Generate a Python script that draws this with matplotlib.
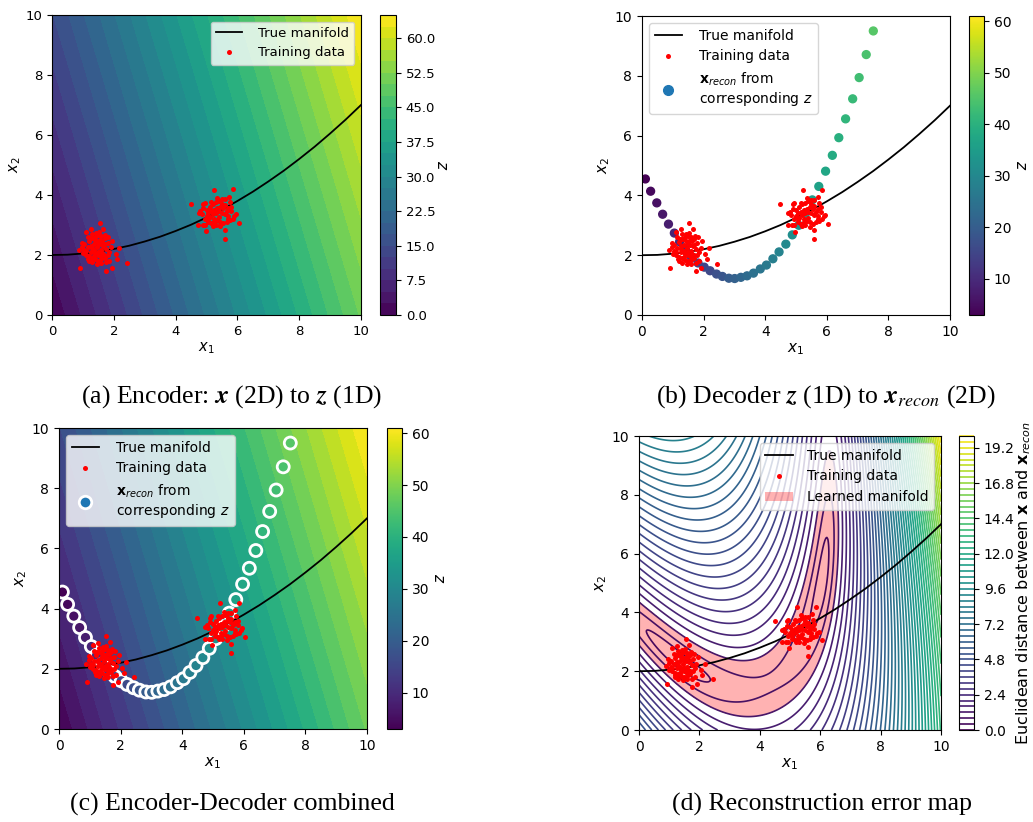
import numpy as np
import matplotlib
matplotlib.use("Agg")
import matplotlib.pyplot as plt
from matplotlib.colors import Normalize
from matplotlib.patches import Patch
from matplotlib.lines import Line2D

# ----------------------------------------------------------------------
# Data
# ----------------------------------------------------------------------
# true manifold, sampled every 0.5 in x1
manifold_x1 = [0, 0.5, 1, 1.5, 2, 2.5, 3, 3.5, 4, 4.5, 5, 5.5, 6, 6.5, 7, 7.5, 8, 8.5,
               9, 9.5, 10]
manifold_x2 = [2.0, 2.01, 2.05, 2.11, 2.2, 2.31, 2.45, 2.61, 2.8, 3.01, 3.25, 3.51, 3.8,
               4.11, 4.45, 4.81, 5.2, 5.61, 6.05, 6.51, 7.0]

# training data, cluster around (1.45, 2.2)
train1_x1 = [1.54, 1.27, 1.10, 1.65, 0.96, 0.88, 0.92, 1.74, 1.93, 2.44, 2.17, 2.06, 2.10, 1.94,
             1.20, 1.30, 1.40, 1.50, 1.60, 1.70, 1.55, 1.45, 1.35, 1.25, 1.15, 1.05, 1.00, 1.10,
             1.20, 1.30, 1.40, 1.50, 1.60, 1.70, 1.80, 1.85, 1.75, 1.65, 1.55, 1.45, 1.35, 1.25,
             1.40, 1.50, 1.60, 1.70, 1.80, 1.30, 1.15, 1.05, 1.20, 1.30, 1.45, 1.60, 1.75, 1.85,
             1.90, 1.62, 1.38, 1.48, 1.28, 1.58, 1.68, 1.22, 1.52, 1.42, 1.72, 1.82, 1.36, 1.10,
             0.98, 1.62, 1.48, 1.18]
train1_x2 = [3.08, 2.87, 2.78, 2.88, 2.41, 2.17, 1.56, 1.46, 1.56, 1.72, 2.24, 2.04, 1.87, 2.47,
             2.45, 2.55, 2.60, 2.65, 2.62, 2.55, 2.50, 2.45, 2.35, 2.30, 2.25, 2.15, 2.05, 2.00,
             1.95, 1.90, 1.85, 1.80, 1.85, 1.90, 2.00, 2.10, 2.20, 2.30, 2.35, 2.25, 2.15, 2.10,
             2.05, 2.10, 2.15, 2.35, 2.40, 2.70, 2.60, 2.35, 1.80, 1.75, 1.70, 1.72, 1.75, 1.80,
             2.25, 2.05, 2.50, 2.00, 2.22, 1.95, 2.00, 2.55, 2.75, 2.72, 2.65, 2.60, 1.95, 2.12,
             2.28, 2.48, 2.38, 1.88]

# training data, cluster around (5.3, 3.4)
train2_x1 = [5.23, 5.85, 4.49, 5.72, 4.94, 6.05, 5.59, 5.60, 4.97, 4.73, 4.88,
             5.00, 5.10, 5.20, 5.30, 5.40, 5.50, 5.60, 5.70, 5.80, 5.90, 5.85, 5.75, 5.65,
             5.55, 5.45, 5.35, 5.25, 5.15, 5.05, 4.95, 4.85, 4.80, 4.90, 5.00, 5.10, 5.20,
             5.30, 5.40, 5.50, 5.60, 5.70, 5.45, 5.35, 5.25, 5.15, 5.05, 5.55, 5.65, 5.75,
             5.50, 5.35, 5.15, 4.90, 4.75, 5.25, 5.40, 5.80, 5.95, 5.60, 5.05, 5.30, 5.45,
             5.20, 5.70, 4.95]
train2_x2 = [4.17, 4.19, 3.70, 3.94, 3.74, 3.06, 2.83, 2.53, 2.79, 3.00, 3.00,
             3.50, 3.60, 3.70, 3.75, 3.80, 3.70, 3.65, 3.55, 3.45, 3.30, 3.20, 3.15, 3.10,
             3.05, 3.10, 3.15, 3.10, 3.05, 3.10, 3.20, 3.35, 3.45, 3.55, 3.30, 3.25, 3.35,
             3.40, 3.45, 3.40, 3.35, 3.30, 3.60, 3.55, 3.50, 3.45, 3.40, 3.55, 3.45, 3.75,
             3.85, 3.90, 3.75, 3.70, 3.40, 3.20, 3.25, 3.60, 3.35, 3.85, 3.20, 3.00, 2.95,
             2.98, 3.20, 3.00]

# decoder output x_recon for each z (visible points only)
recon_z = [3.0, 4.2, 5.4, 6.6, 7.7, 8.9, 10.1, 11.3, 12.5, 13.7, 14.8, 16.0, 17.2,
           18.4, 19.6, 20.8, 21.9, 23.1, 24.3, 25.5, 26.7, 27.9, 29.0, 30.2, 31.4,
           32.6, 33.8, 35.0, 36.1, 37.3, 38.5, 39.7, 40.9, 42.1, 43.2, 44.4, 45.6]
recon_x1 = [0.11, 0.28, 0.48, 0.67, 0.86, 1.05, 1.22, 1.42, 1.61, 1.82, 2.02, 2.21, 2.42,
            2.61, 2.82, 3.01, 3.21, 3.41, 3.62, 3.84, 4.04, 4.25, 4.45, 4.67, 4.88,
            5.09, 5.31, 5.53, 5.74, 5.96, 6.18, 6.39, 6.61, 6.84, 7.05, 7.28, 7.51]
recon_x2 = [4.55, 4.14, 3.75, 3.37, 3.04, 2.74, 2.45, 2.16, 1.92, 1.74, 1.60, 1.48, 1.37,
            1.29, 1.23, 1.22, 1.26, 1.31, 1.40, 1.54, 1.67, 1.88, 2.11, 2.37, 2.68,
            3.00, 3.40, 3.85, 4.30, 4.81, 5.34, 5.93, 6.56, 7.23, 7.94, 8.71, 9.50]
Z_MIN, Z_MAX = 3.0, 61.0          # colour range of the z colourbars

ENC_A, ENC_B, ENC_C = 5.0, 1.45, 0.3
ERR_LEARNED = 1.2                 # error below which the manifold counts as learned

z_ticks = [0.0, 7.5, 15.0, 22.5, 30.0, 37.5, 45.0, 52.5, 60.0]
zc_ticks = [10, 20, 30, 40, 50, 60]
err_ticks = [0.0, 2.4, 4.8, 7.2, 9.6, 12.0, 14.4, 16.8, 19.2]

W, H = 1033, 822


def px_rect(left, right, top, bottom):
    return [left / W, 1 - bottom / H, (right - left) / W, (bottom - top) / H]


def encoder(x1, x2):
    return ENC_A * x1 + ENC_B * x2 + ENC_C


def decoder(z):
    # smooth fit through the read decoder points, used only for the error map
    p1 = np.polyfit(recon_z, recon_x1, 3)
    p2 = np.polyfit(recon_z, recon_x2, 4)
    return np.polyval(p1, z), np.polyval(p2, z)


def base(ax, fs=10):
    ax.plot(manifold_x1, manifold_x2, color="black", lw=1.3, label="True manifold")
    ax.plot(train1_x1 + train2_x1, train1_x2 + train2_x2, "o", color="red",
            ms=3.6, mec="none", label="Training data")
    ax.set_xlim(0, 10)
    ax.set_ylim(0, 10)
    ax.set_xticks([0, 2, 4, 6, 8, 10])
    ax.set_yticks([0, 2, 4, 6, 8, 10])
    ax.tick_params(labelsize=fs)
    ax.set_xlabel("$x_1$", fontsize=fs + 1, labelpad=2)
    ax.set_ylabel("$x_2$", fontsize=fs + 1, labelpad=2)


gx = np.linspace(0, 10, 300)
X1, X2 = np.meshgrid(gx, gx)
Zf = encoder(X1, X2)
z_levels = np.arange(0, 65.1, 2.5)
norm_z = Normalize(vmin=Z_MIN, vmax=Z_MAX)
recon_label = "$\\mathbf{x}_{recon}$ from\ncorresponding $z$"

fig = plt.figure(figsize=(W / 100, H / 100), dpi=100)

# (a) encoder
ax = fig.add_axes(px_rect(52, 361, 15, 315))
cf = ax.contourf(X1, X2, Zf, levels=z_levels, cmap="viridis")
base(ax, 9.5)
ax.legend(loc="upper right", fontsize=9.5, handletextpad=1.2, borderaxespad=0.5)
cax = fig.add_axes(px_rect(380, 396, 15, 315))
cb = fig.colorbar(cf, cax=cax, ticks=z_ticks, format="%.1f")
cb.ax.tick_params(labelsize=9.5)
cb.set_label("$z$", rotation=270, fontsize=11, labelpad=10)

# (b) decoder
ax = fig.add_axes(px_rect(642, 950, 16, 315))
base(ax, 10)
sc = ax.scatter(recon_x1, recon_x2, c=recon_z, cmap="viridis", norm=norm_z, s=32)
h, l = ax.get_legend_handles_labels()
h.append(Line2D([], [], ls="none", marker="o", ms=7, color="C0"))
l.append(recon_label)
ax.legend(h, l, loc="upper left", fontsize=10, handletextpad=1.2)
cax = fig.add_axes(px_rect(969, 984, 16, 315))
cb = fig.colorbar(sc, cax=cax, ticks=zc_ticks)
cb.ax.tick_params(labelsize=10)
cb.set_label("$z$", rotation=270, fontsize=11, labelpad=12)

# (c) combined
ax = fig.add_axes(px_rect(59, 367, 428, 729))
ax.contourf(X1, X2, Zf, levels=z_levels, cmap="viridis")
base(ax, 10)
sc = ax.scatter(recon_x1, recon_x2, c=recon_z, cmap="viridis", norm=norm_z, s=75,
                edgecolors="white", linewidths=2)
h, l = ax.get_legend_handles_labels()
h.append(Line2D([], [], ls="none", marker="o", ms=9, color="C0", mec="white", mew=2))
l.append(recon_label)
ax.legend(h, l, loc="upper left", fontsize=10, handletextpad=1.2)
cax = fig.add_axes(px_rect(387, 402, 428, 729))
cb = fig.colorbar(sc, cax=cax, ticks=zc_ticks)
cb.ax.tick_params(labelsize=10)
cb.set_label("$z$", rotation=270, fontsize=11, labelpad=12)

# (d) reconstruction error
ax = fig.add_axes(px_rect(639, 941, 436, 730))
d1, d2 = decoder(Zf)
err = np.hypot(X1 - d1, X2 - d2)
ax.contourf(X1, X2, err, levels=[0, ERR_LEARNED], colors=["red"], alpha=0.3)
cs = ax.contour(X1, X2, err, levels=np.arange(0, 20.01, 0.4), cmap="viridis",
                linewidths=1.2)
base(ax, 10)
h, l = ax.get_legend_handles_labels()
h.append(Patch(facecolor="red", alpha=0.3))
l.append("Learned manifold")
ax.legend(h, l, loc="upper right", fontsize=10, handletextpad=1.0)
cax = fig.add_axes(px_rect(959, 974, 436, 730))
cb = fig.colorbar(cs, cax=cax, ticks=err_ticks, format="%.1f")
cb.ax.tick_params(labelsize=10)
cb.set_label("Euclidean distance between $\\mathbf{x}$ and $\\mathbf{x}_{recon}$",
             fontsize=11.5, labelpad=0)

# captions
cap = dict(ha="center", va="center", fontsize=18.5, family="Liberation Serif",
           math_fontfamily="stix")
fig.text(0.2245, 0.518, "(a) Encoder: $\\boldsymbol{x}$ (2D) to $\\boldsymbol{z}$ (1D)", **cap)
fig.text(0.799, 0.518, "(b) Decoder $\\boldsymbol{z}$ (1D) to $\\boldsymbol{x}_{recon}$ (2D)", **cap)
fig.text(0.2245, 0.021, "(c) Encoder-Decoder combined", **cap)
fig.text(0.796, 0.021, "(d) Reconstruction error map", **cap)

fig.savefig("out.png", dpi=100)
